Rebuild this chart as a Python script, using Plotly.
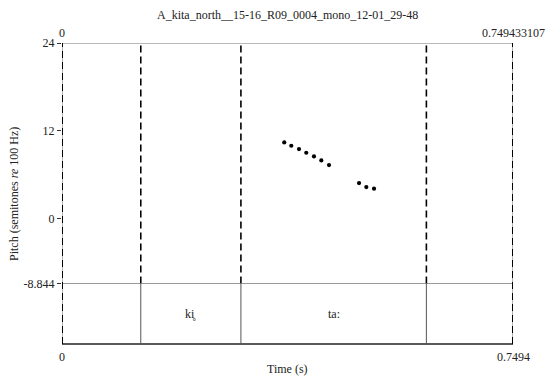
import plotly.graph_objects as go

# ---- data ----
x_max = 0.749433107
times = [0.3693, 0.3810, 0.3938, 0.4059, 0.4187, 0.4309, 0.4437, 0.4936, 0.5057, 0.5185]
pitch = [10.42, 9.97, 9.52, 9.01, 8.51, 7.96, 7.33, 4.87, 4.33, 4.10]
boundaries = [0.1309, 0.2973, 0.6055]
interval_labels = ["ki\u0325", "ta:"]
y_ticks = [24, 12, 0, -8.844]
y_tick_text = ["24", "12", "0", "-8.844"]
y_min, y_max = -8.844, 24
title = "A_kita_north__15-16_R09_0004_mono_12-01_29-48"

W, H = 548, 376
ML, MR, MT, MB = 62, 35, 43, 32
PH = H - MT - MB
split = 60.5 / PH  # tier fraction

FONT = "Liberation Serif, Times New Roman, serif"
TXT = "#222"

def py(pix):
    """pixel y -> paper y"""
    return (H - MB - pix) / PH

fig = go.Figure()
fig.add_trace(go.Scatter(
    x=times, y=pitch, mode="markers",
    marker=dict(color="black", size=4.2),
    xaxis="x", yaxis="y", showlegend=False, hoverinfo="skip"))

shapes = []
# top border
shapes.append(dict(type="line", xref="x", yref="y", x0=0, x1=x_max, y0=y_max, y1=y_max,
                   line=dict(color="#777", width=1)))
# tier top line
shapes.append(dict(type="line", xref="x", yref="y", x0=0, x1=x_max, y0=y_min, y1=y_min,
                   line=dict(color="#333", width=1)))
# tier bottom line
shapes.append(dict(type="line", xref="x", yref="paper", x0=0, x1=x_max, y0=0, y1=0,
                   line=dict(color="#222", width=1.6)))
# outer borders: thin solid + dashed
for xv in [0, x_max]:
    shapes.append(dict(type="line", xref="x", yref="paper", x0=xv, x1=xv, y0=0, y1=1,
                       line=dict(color="#666", width=1)))
    shapes.append(dict(type="line", xref="x", yref="paper", x0=xv, x1=xv, y0=0, y1=1,
                       line=dict(color="black", width=2, dash="7px,4px")))
# boundaries
for b in boundaries:
    shapes.append(dict(type="line", xref="x", yref="y", x0=b, x1=b, y0=y_min, y1=y_max,
                       line=dict(color="black", width=1.6, dash="7px,4px")))
    shapes.append(dict(type="line", xref="x", yref="paper", x0=b, x1=b, y0=0, y1=split,
                       line=dict(color="#555", width=1)))

annotations = []
# tier labels
edges = boundaries
for i, lab in enumerate(interval_labels):
    xc = (edges[i] + edges[i + 1]) / 2
    annotations.append(dict(x=xc, y=split / 2, xref="x", yref="paper", text=lab,
                            showarrow=False, font=dict(family=FONT, size=12, color=TXT),
                            xanchor="center", yanchor="middle"))
# top labels
annotations.append(dict(x=0, y=py(33), xref="x", yref="paper", text="0", showarrow=False,
                        font=dict(family=FONT, size=12, color=TXT), xanchor="center", yanchor="middle"))
annotations.append(dict(x=x_max, y=py(33), xref="x", yref="paper", text=f"{x_max:.9f}",
                        showarrow=False, font=dict(family=FONT, size=12, color=TXT),
                        xanchor="center", yanchor="middle"))
# bottom labels
annotations.append(dict(x=0, y=py(357), xref="x", yref="paper", text="0", showarrow=False,
                        font=dict(family=FONT, size=12, color=TXT), xanchor="center", yanchor="middle"))
annotations.append(dict(x=x_max, y=py(357), xref="x", yref="paper", text=f"{x_max:.4f}",
                        showarrow=False, font=dict(family=FONT, size=12, color=TXT),
                        xanchor="center", yanchor="middle"))
annotations.append(dict(x=0.5, y=py(369), xref="paper", yref="paper", text="Time (s)",
                        showarrow=False, font=dict(family=FONT, size=12, color=TXT),
                        xanchor="center", yanchor="middle"))
# title
annotations.append(dict(x=0.5, y=py(15), xref="paper", yref="paper", text=title,
                        showarrow=False, font=dict(family=FONT, size=12, color=TXT),
                        xanchor="center", yanchor="middle"))
# y title
annotations.append(dict(x=(14 - ML) / (W - ML - MR), y=py(194), xref="paper", yref="paper",
                        text="Pitch (semitones <i>re</i> 100 Hz)", textangle=-90,
                        showarrow=False, font=dict(family=FONT, size=12, color=TXT),
                        xanchor="center", yanchor="middle"))

fig.update_layout(
    width=W, height=H,
    margin=dict(l=ML, r=MR, t=MT, b=MB, pad=0),
    paper_bgcolor="white", plot_bgcolor="white",
    showlegend=False,
    xaxis=dict(range=[0, x_max], showgrid=False, zeroline=False, showticklabels=False,
               showline=False, ticks="", fixedrange=True),
    yaxis=dict(range=[y_min, y_max], domain=[split, 1], showgrid=False, zeroline=False,
               showline=False, tickmode="array", tickvals=y_ticks, ticktext=y_tick_text,
               ticks="outside", ticklen=4, tickcolor="#333", tickwidth=1,
               tickfont=dict(family=FONT, size=12, color=TXT)),
    shapes=shapes,
    annotations=annotations,
)

fig.write_html(
    "out.html",
    config={"displayModeBar": False},
    post_script="document.body.style.margin='0';document.body.style.padding='0';document.body.style.overflow='hidden';",
)
